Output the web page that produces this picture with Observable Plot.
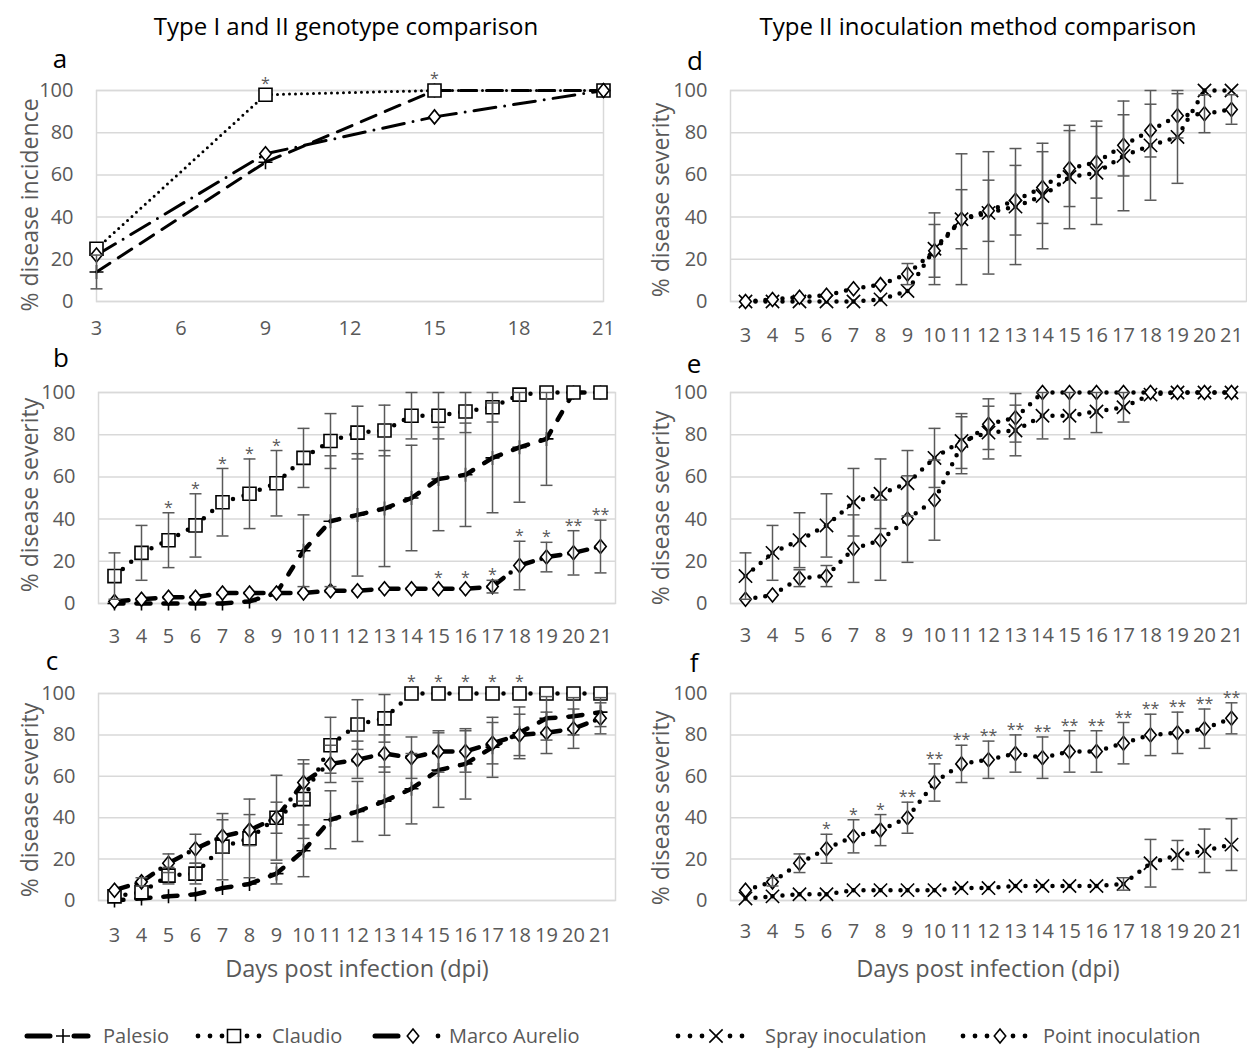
<!DOCTYPE html>
<html><head><meta charset="utf-8">
<script src="https://cdn.jsdelivr.net/npm/d3@7"></script>
<script src="https://cdn.jsdelivr.net/npm/@observablehq/plot@0.6"></script>
<style>
body{margin:0;background:#fff;overflow:hidden;}
#root{position:relative;width:1247px;height:1050px;overflow:hidden;background:#fff;}
#root > svg{position:absolute;}
</style></head><body><div id="root"></div>
<script>
// ---------- data ----------
const days = [3,4,5,6,7,8,9,10,11,12,13,14,15,16,17,18,19,20,21];
const daysA = [3, 9, 15, 21];
const ticksA = [3, 6, 9, 12, 15, 18, 21];
const yTicks = [0, 20, 40, 60, 80, 100];

// panel a: disease incidence
const incPalesio = [14, 66, 100, 100];
const incPalesioErr = [8, 0, 0, 0];
const incClaudio = [25, 98, 100, 100];
const incMarco = [22, 70, 87.5, 100];
const sigIncClaudio = ["", "*", "*", ""];

// severity: Palesio
const palSpray    = [0, 0, 0, 0, 0, 1, 5, 25, 39, 42, 45, 50, 59, 61, 69, 74, 78, 100, 100];
const palSprayErr = [0, 0, 0, 0, 0, 0, 0, 17, 31, 29, 27.5, 25, 24.5, 24.5, 26, 26, 22, 0, 0];
const palPoint    = [0, 1, 2, 3, 6, 8, 13, 24, 39, 43, 48, 54, 63, 66, 74, 81, 88, 89, 91];
const palPointErr = [0, 0, 0, 0, 0, 0, 5, 12.5, 14, 14.5, 16.5, 17, 18, 17, 14.5, 12.5, 10.5, 9, 7];
// severity: Claudio
const claSpray    = [13, 24, 30, 37, 48, 52, 57, 69, 77, 81, 82, 89, 89, 91, 93, 99, 100, 100, 100];
const claSprayErr = [11, 13, 13, 15, 16, 16.5, 15.5, 14, 13, 12.5, 12, 11, 11, 10, 7, 0, 0, 0, 0];
const claPoint    = [2, 4, 12, 13, 26, 30, 40, 49, 75, 85, 88, 100, 100, 100, 100, 100, 100, 100, 100];
const claPointErr = [0, 0, 4, 5, 16, 19, 20.5, 19, 13.5, 12, 11.5, 0, 0, 0, 0, 0, 0, 0, 0];
// severity: Marco Aurelio
const marSpray    = [1, 2, 3, 3, 5, 5, 5, 5, 6, 6, 7, 7, 7, 7, 8, 18, 22, 24, 27];
const marSprayErr = [0, 0, 0, 0, 0, 0, 0, 0, 0, 0, 0, 0, 0, 0, 3, 11.5, 7, 10.5, 12.5];
const marPoint    = [5, 9, 18, 25, 31, 34, 40, 57, 66, 68, 71, 69, 72, 72, 76, 80, 81, 83, 88];
const marPointErr = [0, 2, 4.5, 7, 8, 7.5, 7.5, 9, 9, 9, 9, 10, 10, 10, 10, 10, 10, 9.5, 7.5];

// significance marks
const sigBClaudio = ["", "", "*", "*", "*", "*", "*", "", "", "", "", "", "", "", "", "", "", "", ""];
const sigBMarco   = ["", "", "", "", "", "", "", "", "", "", "", "", "*", "*", "*", "*", "*", "**", "**"];
const sigCClaudio = ["", "", "", "", "", "", "", "", "", "", "", "*", "*", "*", "*", "*", "", "", ""];
const sigFPoint   = ["", "", "", "*", "*", "*", "**", "**", "**", "**", "**", "**", "**", "**", "**", "**", "**", "**", "**"];

const titles = ["Type I and II genotype comparison", "Type II inoculation method comparison"];
const legendLeft = ["Palesio", "Claudio", "Marco Aurelio"];
const legendRight = ["Spray inoculation", "Point inoculation"];

// ---------- symbols ----------
const R = s => Math.sqrt(s / Math.PI);
const plusSym = {draw(c, s){const r = R(s); c.moveTo(-r,0); c.lineTo(r,0); c.moveTo(0,-r); c.lineTo(0,r);}};
const timesSym = {draw(c, s){const r = R(s)*0.95; c.moveTo(-r,-r); c.lineTo(r,r); c.moveTo(r,-r); c.lineTo(-r,r);}};
const squareSym = {draw(c, s){const r = R(s)*0.93; c.moveTo(-r,-r); c.lineTo(r,-r); c.lineTo(r,r); c.lineTo(-r,r); c.closePath();}};
const diamondSym = {draw(c, s){const r = R(s); const w = r*0.82; c.moveTo(0,-r); c.lineTo(w,0); c.lineTo(0,r); c.lineTo(-w,0); c.closePath();}};
const capSym = {draw(c, s){const r = R(s); c.moveTo(-r,0); c.lineTo(r,0);}};

// ---------- helpers ----------
function mkRows(xs, vals, errs, sig) {
  return xs.map((d, i) => {
    const v = vals[i], e = errs ? errs[i] : 0;
    const lo = Math.max(0, v - e), hi = Math.min(100, v + e);
    return {day: d, v, e, lo, hi, sig: sig ? sig[i] : "", top: Math.max(e > 0 ? hi : v, v + 3)};
  });
}
function mkSegs(rows) {
  const out = [];
  for (let i = 0; i < rows.length - 1; i++) {
    out.push({seg: i, day: rows[i].day, v: rows[i].v});
    out.push({seg: i, day: rows[i+1].day, v: rows[i+1].v});
  }
  return out;
}

const root = document.getElementById("root");

function panel({left, top, width, height, mt, mb, ml, mr, linearX, xPad, series}) {
  const marks = [
    Plot.gridY({ticks: yTicks, stroke: "#d9d9d9", strokeOpacity: 1, strokeWidth: 1.5}),
    Plot.frame({stroke: "#d9d9d9", strokeWidth: 1.5}),
    Plot.axisY({ticks: yTicks, tickSize: 0, tickPadding: 23, label: null, fontSize: 20, fill: "#595959"}),
    linearX
      ? Plot.axisX({ticks: ticksA, tickSize: 0, tickPadding: xPad, label: null, fontSize: 20, fill: "#595959"})
      : Plot.axisX({tickSize: 0, tickPadding: xPad, label: null, fontSize: 20, fill: "#595959"})
  ];
  for (const s of series) {
    marks.push(Plot.line(mkSegs(s.rows), {x: "day", y: "v", z: "seg", stroke: "black",
      strokeWidth: s.w, strokeDasharray: s.dash, strokeLinecap: "round"}));
  }
  for (const s of series) {
    marks.push(Plot.dot(s.rows, {x: "day", y: "v", symbol: s.sym, r: 7, fill: "white", stroke: "black", strokeWidth: 1.6}));
  }
  for (const s of series) {
    const er = s.rows.filter(d => d.e > 0);
    marks.push(Plot.ruleX(er, {x: "day", y1: "lo", y2: "hi", stroke: "#595959", strokeWidth: 1.5}));
    marks.push(Plot.dot(er, {x: "day", y: "lo", symbol: capSym, r: 6, fill: "none", stroke: "#595959", strokeWidth: 1.5}));
    marks.push(Plot.dot(er, {x: "day", y: "hi", symbol: capSym, r: 6, fill: "none", stroke: "#595959", strokeWidth: 1.5}));
  }
  for (const s of series) {
    const st = s.rows.filter(d => d.sig);
    if (st.length) marks.push(Plot.text(st, {x: "day", y: "top", text: "sig", dy: -5, fill: "#595959", fontSize: 16}));
  }
  const svg = Plot.plot({
    width, height, marginTop: mt, marginBottom: mb, marginLeft: ml, marginRight: mr,
    x: linearX ? {type: "linear", domain: [3, 21]} : {type: "point", domain: days, padding: 0.5},
    y: {domain: [0, 100]},
    style: {fontFamily: "'Open Sans', sans-serif", fontSize: "20px", color: "#595959", background: "transparent", overflow: "visible"},
    marks
  });
  svg.style.position = "absolute";
  svg.style.left = left + "px";
  svg.style.top = top + "px";
  root.appendChild(svg);
}

// line styles
const thin = {pal: {w: 3, dash: "16,10"}, cla: {w: 3, dash: "0,6"}, mar: {w: 3, dash: "22,9,0,9"}};
const thick = {pal: {w: 4.5, dash: "9,13"}, cla: {w: 4.5, dash: "0,11"}, mar: {w: 4.5, dash: "14,9,0,9"}};
const dotted = {w: 4.5, dash: "0,10"};

// panel a
panel({left: 0, top: 55, width: 630, height: 291, mt: 35, mb: 45, ml: 96, mr: 27, linearX: true, xPad: 19,
  series: [
    {rows: mkRows(daysA, incPalesio, incPalesioErr), sym: plusSym, ...thin.pal},
    {rows: mkRows(daysA, incClaudio, null, sigIncClaudio), sym: squareSym, ...thin.cla},
    {rows: mkRows(daysA, incMarco), sym: diamondSym, ...thin.mar}
  ]});
// panel b
panel({left: 0, top: 355, width: 630, height: 293, mt: 37, mb: 45, ml: 98, mr: 15, xPad: 25,
  series: [
    {rows: mkRows(days, palSpray, palSprayErr), sym: plusSym, ...thick.pal},
    {rows: mkRows(days, claSpray, claSprayErr, sigBClaudio), sym: squareSym, ...thick.cla},
    {rows: mkRows(days, marSpray, marSprayErr, sigBMarco), sym: diamondSym, ...thick.mar}
  ]});
// panel c
panel({left: 0, top: 650, width: 630, height: 295, mt: 43, mb: 45, ml: 98, mr: 15, xPad: 27,
  series: [
    {rows: mkRows(days, palPoint, palPointErr), sym: plusSym, ...thick.pal},
    {rows: mkRows(days, claPoint, claPointErr, sigCClaudio), sym: squareSym, ...thick.cla},
    {rows: mkRows(days, marPoint, marPointErr), sym: diamondSym, ...thick.mar}
  ]});
// panel d
panel({left: 630, top: 55, width: 617, height: 291, mt: 35, mb: 45, ml: 100, mr: 1, xPad: 26,
  series: [
    {rows: mkRows(days, palSpray, palSprayErr), sym: timesSym, ...dotted},
    {rows: mkRows(days, palPoint, palPointErr), sym: diamondSym, ...dotted}
  ]});
// panel e
panel({left: 630, top: 355, width: 617, height: 293, mt: 37, mb: 45, ml: 100, mr: 1, xPad: 24,
  series: [
    {rows: mkRows(days, claSpray, claSprayErr), sym: timesSym, ...dotted},
    {rows: mkRows(days, claPoint, claPointErr), sym: diamondSym, ...dotted}
  ]});
// panel f
panel({left: 630, top: 650, width: 617, height: 295, mt: 43, mb: 45, ml: 100, mr: 1, xPad: 23,
  series: [
    {rows: mkRows(days, marSpray, marSprayErr), sym: timesSym, ...dotted},
    {rows: mkRows(days, marPoint, marPointErr, sigFPoint), sym: diamondSym, ...dotted}
  ]});

// ---------- overlay text & legend ----------
const ov = d3.select(root).append("svg")
  .attr("width", 1247).attr("height", 1050)
  .style("left", "0px").style("top", "0px").style("pointer-events", "none")
  .style("font-family", "'Open Sans', sans-serif");

ov.append("text").attr("x", 346).attr("y", 35).attr("text-anchor", "middle").attr("font-size", 24).attr("fill", "#000").text(titles[0]);
ov.append("text").attr("x", 978).attr("y", 35).attr("text-anchor", "middle").attr("font-size", 24).attr("fill", "#000").text(titles[1]);

const letters = [["a", 60, 68], ["b", 61, 367], ["c", 52, 670], ["d", 695, 70], ["e", 694, 373], ["f", 694, 672]];
for (const [t, x, y] of letters) ov.append("text").attr("x", x).attr("y", y).attr("text-anchor", "middle").attr("font-size", 26).attr("fill", "#000").text(t);

const ylabs = [["% disease incidence", 30, 205], ["% disease severity", 30, 495], ["% disease severity", 30, 800],
               ["% disease severity", 661, 200], ["% disease severity", 661, 508], ["% disease severity", 661, 808]];
for (const [t, x, y] of ylabs) ov.append("text").attr("transform", `translate(${x + 8},${y}) rotate(-90)`)
  .attr("text-anchor", "middle").attr("font-size", 23).attr("fill", "#595959").text(t);

for (const x of [357, 988]) ov.append("text").attr("x", x).attr("y", 977).attr("text-anchor", "middle")
  .attr("font-size", 23.5).attr("fill", "#595959").text("Days post infection (dpi)");

// legend
const ly = 1036;
function sym(gen, cx, kind) {
  const p = d3.path(); gen.draw(p, Math.PI * 49);
  ov.append("path").attr("d", p.toString()).attr("transform", `translate(${cx},${ly})`)
    .attr("fill", kind === "fill" ? "white" : "none").attr("stroke", "black").attr("stroke-width", 1.6);
}
function bar(x1, x2) { ov.append("line").attr("x1", x1).attr("x2", x2).attr("y1", ly).attr("y2", ly).attr("stroke", "black").attr("stroke-width", 5).attr("stroke-linecap", "round"); }
function dot(cx) { ov.append("circle").attr("cx", cx).attr("cy", ly).attr("r", 2.4).attr("fill", "black"); }
function ltext(x, t) { ov.append("text").attr("x", x).attr("y", 1043).attr("font-size", 20).attr("fill", "#595959").text(t); }

bar(27, 50); sym(plusSym, 63, "none"); bar(74, 88); ltext(103, legendLeft[0]);
[198, 210, 222, 247, 259].forEach(dot); sym(squareSym, 234, "fill"); ltext(272, legendLeft[1]);
bar(375, 398); sym(diamondSym, 413, "fill"); dot(438); ltext(449, legendLeft[2]);
[678, 690, 702, 730, 742].forEach(dot); sym(timesSym, 716, "none"); ltext(765, legendRight[0]);
[963, 975, 987, 1013, 1025].forEach(dot); sym(diamondSym, 1000, "fill"); ltext(1043, legendRight[1]);
</script></body></html>
